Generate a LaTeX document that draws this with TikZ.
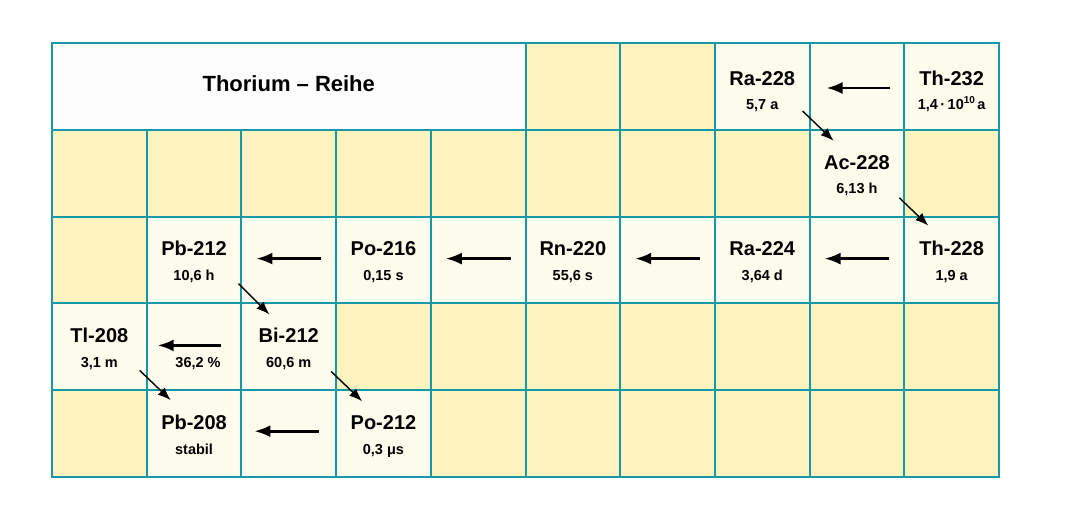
\documentclass[tikz,border=0pt]{standalone}
\usepackage{fontspec}
\setmainfont{Liberation Sans}
\usetikzlibrary{arrows.meta}
\definecolor{gridc}{RGB}{22,152,166}
\definecolor{pale}{RGB}{254,252,236}
\definecolor{yel}{RGB}{252,243,190}
\definecolor{titlebg}{RGB}{253,253,253}
\tikzset{
  cell/.style={draw=gridc, line width=2pt, minimum width=94.7pt, minimum height=86.8pt, inner sep=0pt, anchor=north west},
  emptycell/.style={cell, fill=yel},
  litecell/.style={cell, fill=pale},
  nuc/.style={font=\fontsize{20}{20}\selectfont\bfseries, anchor=base, inner sep=0pt},
  hl/.style={font=\fontsize{14.5}{14.5}\selectfont\bfseries, anchor=base, inner sep=0pt},
  harr/.style={line width=2.6pt, -{Latex[length=16pt,width=12pt]}},
  darr/.style={line width=1.4pt, -{Latex[length=13pt,width=10pt]}},
}
\begin{document}
\begin{tikzpicture}[x=1pt,y=-1pt]
\useasboundingbox[fill=white] (0,0) rectangle (1068,509);
% title cell
\node[cell, fill=titlebg, minimum width=473.5pt] (title) at (51,42) {};
\node[font=\fontsize{22}{22}\selectfont\bfseries, anchor=base, inner sep=0pt] (tt) at ([yshift=-49pt]title.north) {Thorium – Reihe};
% cells
\foreach \r/\c/\s in {
  0/5/emptycell,0/6/emptycell,0/7/litecell,0/8/litecell,0/9/litecell,
  1/0/emptycell,1/1/emptycell,1/2/emptycell,1/3/emptycell,1/4/emptycell,1/5/emptycell,1/6/emptycell,1/7/emptycell,1/8/litecell,1/9/emptycell,
  2/0/emptycell,2/1/litecell,2/2/litecell,2/3/litecell,2/4/litecell,2/5/litecell,2/6/litecell,2/7/litecell,2/8/litecell,2/9/litecell,
  3/0/litecell,3/1/litecell,3/2/litecell,3/3/emptycell,3/4/emptycell,3/5/emptycell,3/6/emptycell,3/7/emptycell,3/8/emptycell,3/9/emptycell,
  4/0/emptycell,4/1/litecell,4/2/litecell,4/3/litecell,4/4/emptycell,4/5/emptycell,4/6/emptycell,4/7/emptycell,4/8/emptycell,4/9/emptycell}
  \node[\s] (c\r\c) at ({51+94.7*\c},{42+86.8*\r}) {};
% nuclides row 0
\node[nuc] (ra228) at ([yshift=-43pt]c07.north) {Ra-228};
\node[hl] (ra228h) at ([yshift=-67pt]c07.north) {5,7 a};
\node[nuc] (th232) at ([yshift=-43pt]c09.north) {Th-232};
\node[hl] (th232h) at ([yshift=-67pt]c09.north) {1,4\,·\,10\raisebox{5.5pt}{\fontsize{10}{10}\selectfont 10}\,a};
% row 1
\node[nuc] (ac228) at ([yshift=-41pt]c18.north) {Ac-228};
\node[hl] (ac228h) at ([yshift=-65pt]c18.north) {6,13 h};
% row 2
\node[nuc] (pb212) at ([yshift=-40pt]c21.north) {Pb-212};
\node[hl] (pb212h) at ([yshift=-65pt]c21.north) {10,6 h};
\node[nuc] (po216) at ([yshift=-40pt]c23.north) {Po-216};
\node[hl] (po216h) at ([yshift=-65pt]c23.north) {0,15 s};
\node[nuc] (rn220) at ([yshift=-40pt]c25.north) {Rn-220};
\node[hl] (rn220h) at ([yshift=-65pt]c25.north) {55,6 s};
\node[nuc] (ra224) at ([yshift=-40pt]c27.north) {Ra-224};
\node[hl] (ra224h) at ([yshift=-65pt]c27.north) {3,64 d};
\node[nuc] (th228) at ([yshift=-40pt]c29.north) {Th-228};
\node[hl] (th228h) at ([yshift=-65pt]c29.north) {1,9 a};
% row 3
\node[nuc] (tl208) at ([yshift=-40pt]c30.north) {Tl-208};
\node[hl] (tl208h) at ([yshift=-65pt]c30.north) {3,1 m};
\node[hl] (pct) at ([xshift=4pt,yshift=-65pt]c31.north) {36,2 \%};
\node[nuc] (bi212) at ([yshift=-40pt]c32.north) {Bi-212};
\node[hl] (bi212h) at ([yshift=-65pt]c32.north) {60,6 m};
% row 4
\node[nuc] (pb208) at ([yshift=-40pt]c41.north) {Pb-208};
\node[hl] (pb208h) at ([yshift=-65pt]c41.north) {stabil};
\node[nuc] (po212) at ([yshift=-40pt]c43.north) {Po-212};
\node[hl] (po212h) at ([yshift=-65pt]c43.north) {0,3 μs};
% horizontal arrows
\draw[harr] ([xshift=-15pt,yshift=-46pt]c08.north east) -- ([xshift=18pt,yshift=-46pt]c08.north west);
\foreach \c in {2,4,6,8}
  \draw[harr] ([xshift=-16pt,yshift=-43pt]c2\c.north east) -- ([xshift=16pt,yshift=-43pt]c2\c.north west);
\draw[harr] ([xshift=-21pt,yshift=-43pt]c31.north east) -- ([xshift=12pt,yshift=-43pt]c31.north west);
\draw[harr] ([xshift=-18pt,yshift=-42pt]c42.north east) -- ([xshift=14pt,yshift=-42pt]c42.north west);
% diagonal arrows
\draw[darr] ([xshift=-8pt,yshift=-69pt]c07.north east) -- ([xshift=25pt,yshift=-12pt]c18.north west);
\draw[darr] ([xshift=-6pt,yshift=-69pt]c18.north east) -- ([xshift=25pt,yshift=-10pt]c29.north west);
\draw[darr] ([xshift=-4pt,yshift=-68pt]c21.north east) -- ([xshift=29pt,yshift=-12pt]c32.north west);
\draw[darr] ([xshift=-6pt,yshift=-69pt]c32.north east) -- ([xshift=27pt,yshift=-12pt]c43.north west);
\draw[darr] ([xshift=-8pt,yshift=-68pt]c30.north east) -- ([xshift=25pt,yshift=-11pt]c41.north west);
\end{tikzpicture}
\end{document}
